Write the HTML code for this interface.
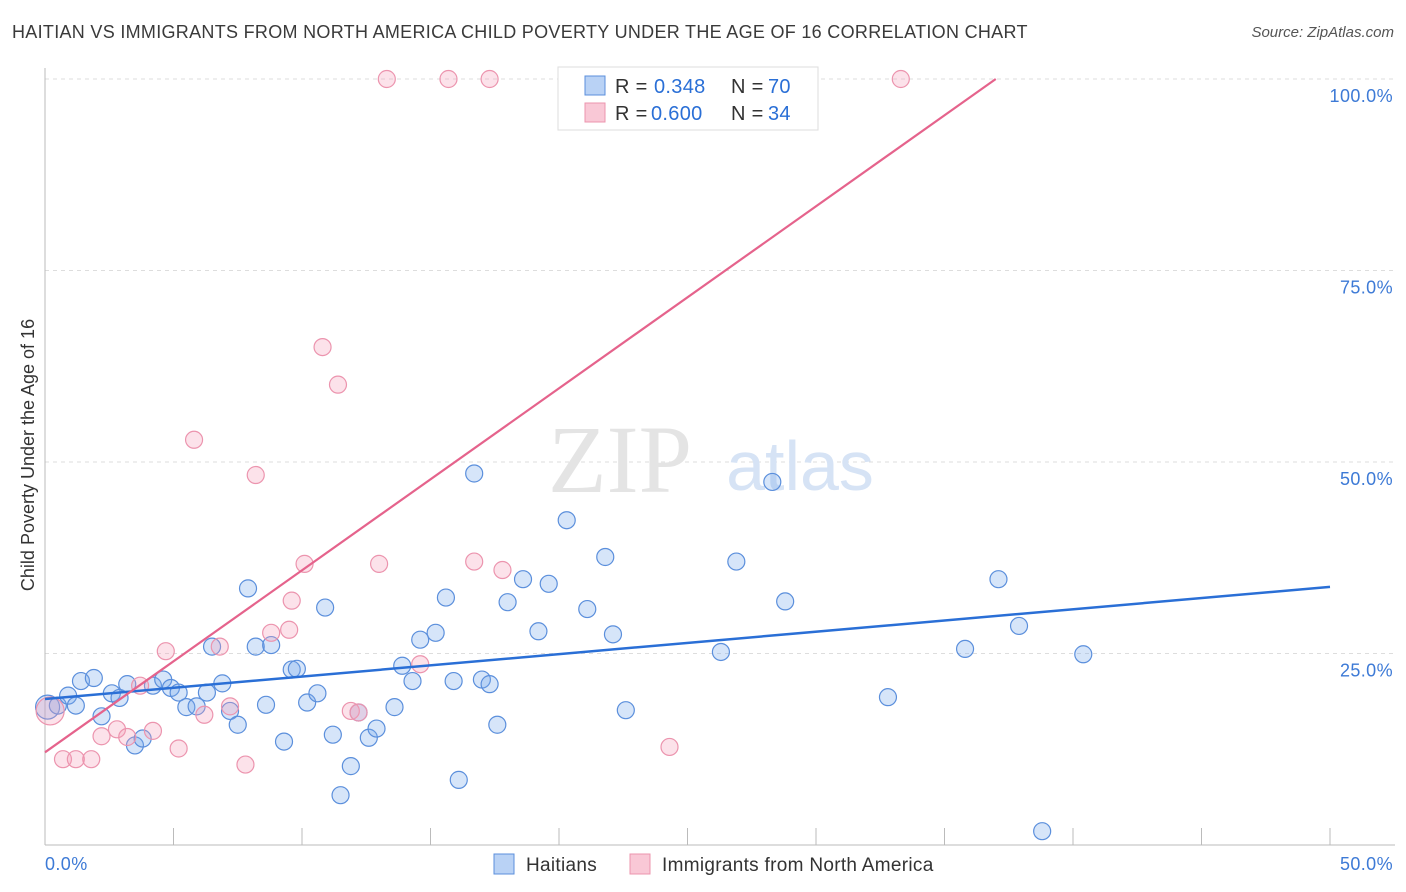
<!DOCTYPE html>
<html><head><meta charset="utf-8"><style>
body{margin:0;background:#fff;font-family:"Liberation Sans",sans-serif;}
#wrap{position:relative;width:1406px;height:892px;overflow:hidden;}
.t{position:absolute;white-space:nowrap;}
</style></head><body>
<div id="wrap">
<div class="t" style="left:12px;top:22px;font-size:18px;color:#3a3a3a;letter-spacing:0.3px;">HAITIAN VS IMMIGRANTS FROM NORTH AMERICA CHILD POVERTY UNDER THE AGE OF 16 CORRELATION CHART</div>
<div class="t" style="right:12px;top:24px;font-size:15px;color:#555;font-style:italic;">Source: ZipAtlas.com</div>
<svg id="plot" width="1406" height="892" style="position:absolute;left:0;top:0"></svg>
</div>
<script>
const blueX=[0.1,0.5,0.9,1.2,1.4,1.9,2.2,2.6,2.9,3.2,3.5,3.8,4.2,4.6,4.9,5.2,5.5,5.9,6.3,6.5,6.9,7.2,7.5,7.9,8.2,8.6,8.8,9.3,9.6,9.8,10.2,10.6,10.9,11.2,11.5,11.9,12.2,12.6,12.9,13.6,13.9,14.3,14.6,15.2,15.6,15.9,16.1,16.7,17.0,17.3,17.6,18.0,18.6,19.2,19.6,20.3,21.1,21.8,22.1,22.6,26.3,26.9,28.3,28.8,32.8,35.8,37.1,37.9,38.8,40.4];
const blueY=[18.0,18.2,19.5,18.2,21.4,21.8,16.8,19.8,19.2,21.0,13.0,13.9,20.8,21.6,20.5,19.9,18.0,18.1,19.9,25.9,21.1,17.5,15.7,33.5,25.9,18.3,26.1,13.5,22.9,23.0,18.6,19.8,31.0,14.4,6.5,10.3,17.3,14.0,15.2,18.0,23.4,21.4,26.8,27.7,32.3,21.4,8.5,48.5,21.6,21.0,15.7,31.7,34.7,27.9,34.1,42.4,30.8,37.6,27.5,17.6,25.2,37.0,47.4,31.8,19.3,25.6,34.7,28.6,1.8,24.9];
const pinkX=[0.2,13.3,15.7,17.3,33.3,10.8,11.4,5.8,8.2,10.1,13.0,16.7,17.8,9.6,8.8,9.5,6.8,4.7,14.6,3.7,7.2,6.2,11.9,12.2,2.8,4.2,2.2,3.2,5.2,7.8,24.3,0.7,1.2,1.8];
const pinkY=[17.5,100,100,100,100,65.0,60.1,52.9,48.3,36.7,36.7,37.0,35.9,31.9,27.7,28.1,25.9,25.3,23.6,20.8,18.1,17.0,17.5,17.3,15.1,14.9,14.2,14.1,12.6,10.5,12.8,11.2,11.2,11.2];
const xTicks=[0,5,10,15,20,25,30,35,40,45,50];
const yTicks=[25,50,75,100];
const yTickLabels=["25.0%","50.0%","75.0%","100.0%"];
const blueLine=[19.06,33.7];
const pinkLine=[12.1,2.376];
const X=v=>45+v*25.7, Y=v=>845-v*7.66;
const svg=document.getElementById('plot');const NS='http://www.w3.org/2000/svg';
function mk(tag,at,name,txt){const e=document.createElementNS(NS,tag);for(const k in at)e.setAttribute(k,at[k]);


if(txt!==undefined)e.textContent=txt;svg.appendChild(e);return e;}
yTicks.forEach((v,i)=>{mk('line',{x1:45,x2:1395,y1:Y(v),y2:Y(v),stroke:'#ddd','stroke-dasharray':'4,4'},'y-gridline');
mk('text',{x:1393,y:Y(v)+23,'text-anchor':'end','font-size':18,fill:'#3d7ad6','font-family':'Liberation Sans','letter-spacing':0.4},'y-tick-label',yTickLabels[i]);});
mk('line',{x1:45,x2:45,y1:68,y2:845,stroke:'#bbb'},'y-axis');
mk('line',{x1:45,x2:1395,y1:845,y2:845,stroke:'#bbb'},'x-axis');
xTicks.forEach(v=>mk('line',{x1:X(v),x2:X(v),y1:828,y2:845,stroke:'#bbb'},'x-tick'));
mk('text',{x:45,y:870,'font-size':18,fill:'#3d7ad6','font-family':'Liberation Sans','letter-spacing':0.4},'x-min-label','0.0%');
mk('text',{x:1393,y:870,'text-anchor':'end','font-size':18,fill:'#3d7ad6','font-family':'Liberation Sans','letter-spacing':0.4},'x-max-label','50.0%');
mk('text',{x:620,y:492,'text-anchor':'middle','font-size':96,fill:'#e4e4e4','font-family':'Liberation Serif'},'watermark-zip','ZIP');
mk('text',{x:800,y:490,'text-anchor':'middle','font-size':70,fill:'#d6e3f5','font-family':'Liberation Sans'},'watermark-atlas','atlas');
mk('text',{x:0,y:0,transform:'translate(34,455) rotate(-90)','text-anchor':'middle','font-size':18,fill:'#333','font-family':'Liberation Sans'},'y-axis-title','Child Poverty Under the Age of 16');
blueX.forEach((x,i)=>mk('circle',{cx:X(x),cy:Y(blueY[i]),r:i==0?12:8.5,fill:'rgba(120,170,235,0.3)',stroke:'#5b8fdc','stroke-width':1.2},'haitian-point'));
pinkX.forEach((x,i)=>mk('circle',{cx:X(x),cy:Y(pinkY[i]),r:i==0?14:8.5,fill:'rgba(245,160,185,0.3)',stroke:'#ec94ae','stroke-width':1.2},'immigrant-point'));
mk('line',{x1:X(0),y1:Y(blueLine[0]),x2:X(50),y2:Y(blueLine[1]),stroke:'#2a6fd6','stroke-width':2.5},'haitian-trendline');
const px2=(100-pinkLine[0])/pinkLine[1];
mk('line',{x1:X(0),y1:Y(pinkLine[0]),x2:X(px2),y2:Y(100),stroke:'#e5638c','stroke-width':2.2},'immigrant-trendline');
mk('rect',{x:558,y:67,width:260,height:63,fill:'#fff',stroke:'#ddd'},'legend-box');
mk('rect',{x:585,y:76,width:20,height:19,fill:'#b9d2f5',stroke:'#5b8fdc'},'legend-swatch-blue');
mk('rect',{x:585,y:103,width:20,height:19,fill:'#f9c8d6',stroke:'#ec94ae'},'legend-swatch-pink');
[['R = ',615,93,'#333'],['0.348',654,93,'#2a6fd6'],['N = ',731,93,'#333'],['70',768,93,'#2a6fd6'],['R = ',615,120,'#333'],['0.600',651,120,'#2a6fd6'],['N = ',731,120,'#333'],['34',768,120,'#2a6fd6']].forEach(a=>mk('text',{x:a[1],y:a[2],'font-size':20,fill:a[3],'font-family':'Liberation Sans','letter-spacing':0.3},'legend-text',a[0]));
mk('rect',{x:494,y:854,width:20,height:20,fill:'#b9d2f5',stroke:'#5b8fdc'},'bottom-legend-swatch-haitians');
mk('text',{x:526,y:871,'font-size':19,fill:'#333','font-family':'Liberation Sans','letter-spacing':0.3},'bottom-legend-haitians','Haitians');
mk('rect',{x:630,y:854,width:20,height:20,fill:'#f9c8d6',stroke:'#ec94ae'},'bottom-legend-swatch-immigrants');
mk('text',{x:662,y:871,'font-size':19,fill:'#333','font-family':'Liberation Sans','letter-spacing':0.3},'bottom-legend-immigrants','Immigrants from North America');
</script>
</body></html>
